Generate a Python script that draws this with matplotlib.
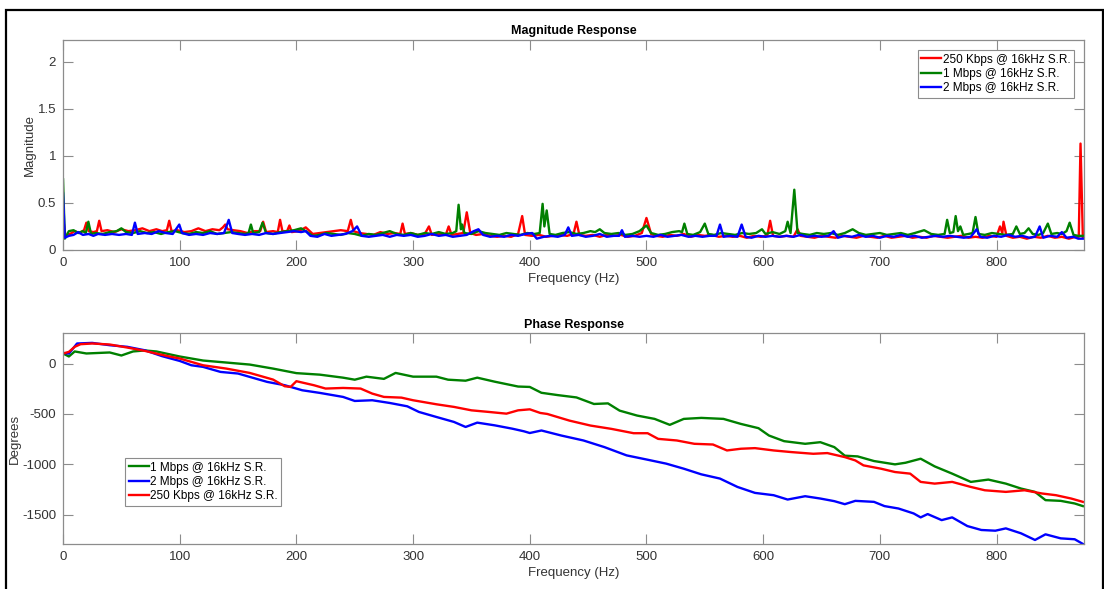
import numpy as np
import matplotlib.pyplot as plt
from matplotlib.patches import Rectangle

plt.rcParams['font.family'] = ['Liberation Sans', 'DejaVu Sans']
plt.rcParams['axes.unicode_minus'] = False

# ---- magnitude response (freq in Hz, magnitude) ----
red_mag_f = [0, 2, 6, 10, 14, 18, 20, 22, 26, 29, 31, 33, 38, 44, 50, 56, 62, 68, 74, 80, 85, 89, 91, 93,
             98, 104, 110, 116, 122, 128, 134, 137, 139, 141, 146, 152, 158, 164, 169, 171.5, 174, 180, 184,
             186, 188, 192, 194, 196, 202, 208, 214, 220, 226, 232, 238, 244, 246.6, 249, 254, 260, 266, 272,
             278, 284, 289, 291, 293, 298, 304, 310, 313.6, 316, 322, 328, 330.5, 333, 338, 343, 346, 349, 354,
             360, 366, 372, 378, 384, 390, 393.5, 396, 402, 408, 414, 420, 426, 432, 437.5, 440, 442.5, 448,
             454, 460, 466, 472, 478, 484, 490, 496, 500, 504, 508, 514, 520, 526, 532, 538, 544, 550, 556,
             562, 568, 574, 580, 586, 592, 598, 603.5, 606, 608.5, 614, 620, 626, 629.5, 632, 638, 644, 650,
             656, 662, 668, 674, 680, 686, 692, 698, 704, 710, 716, 722, 728, 734, 740, 746, 752, 758, 764,
             770, 776, 782, 788, 794, 800, 803, 805, 806, 808.5, 814, 820, 826, 832, 838, 844, 850, 856, 862,
             868, 870.5, 872, 874]
red_mag = [0.35, 0.15, 0.17, 0.2, 0.18, 0.21, 0.29, 0.2, 0.19, 0.2, 0.31, 0.2, 0.21, 0.19, 0.22, 0.2, 0.21,
           0.23, 0.2, 0.22, 0.2, 0.21, 0.31, 0.2, 0.21, 0.19, 0.2, 0.23, 0.2, 0.22, 0.21, 0.24, 0.27, 0.22,
           0.21, 0.2, 0.18, 0.2, 0.2, 0.3, 0.19, 0.2, 0.19, 0.32, 0.2, 0.2, 0.26, 0.19, 0.2, 0.24, 0.17, 0.18,
           0.19, 0.2, 0.21, 0.2, 0.32, 0.2, 0.18, 0.17, 0.16, 0.19, 0.17, 0.18, 0.17, 0.28, 0.17, 0.18, 0.16,
           0.17, 0.25, 0.16, 0.17, 0.16, 0.25, 0.16, 0.17, 0.18, 0.4, 0.18, 0.16, 0.17, 0.15, 0.14, 0.15, 0.14,
           0.17, 0.36, 0.16, 0.15, 0.16, 0.14, 0.15, 0.16, 0.15, 0.17, 0.3, 0.16, 0.15, 0.16, 0.14, 0.16, 0.15,
           0.16, 0.14, 0.15, 0.18, 0.34, 0.17, 0.15, 0.14, 0.16, 0.15, 0.17, 0.14, 0.16, 0.15, 0.16, 0.14, 0.15,
           0.14, 0.15, 0.13, 0.15, 0.14, 0.15, 0.31, 0.15, 0.14, 0.15, 0.14, 0.22, 0.15, 0.14, 0.13, 0.15, 0.14,
           0.13, 0.15, 0.14, 0.13, 0.15, 0.14, 0.13, 0.15, 0.13, 0.14, 0.15, 0.13, 0.14, 0.13, 0.15, 0.14, 0.13,
           0.14, 0.15, 0.13, 0.14, 0.13, 0.15, 0.14, 0.25, 0.18, 0.3, 0.15, 0.13, 0.14, 0.12, 0.14, 0.13, 0.15,
           0.13, 0.14, 0.12, 0.14, 0.14, 1.13, 0.14]

green_mag_f = [0, 1.5, 5, 9, 13, 17, 19.5, 21.7, 24, 28, 34, 40, 46, 50, 54, 60, 66, 72, 78, 84, 90, 96, 102,
               108, 114, 120, 126, 132, 138, 144, 150, 156, 159, 161, 163, 168, 171, 174, 180, 186, 192, 198,
               204, 208, 214, 220, 226, 232, 238, 244, 250, 256, 262, 268, 274, 280, 286, 292, 298, 304, 310,
               316, 322, 328, 334, 337, 339, 341, 342, 344, 350, 356, 362, 368, 374, 380, 386, 392, 398, 404,
               408.5, 411, 412.5, 414.5, 417, 422, 428, 434, 440, 446, 452, 456, 460, 464, 470, 476, 482, 488,
               494, 500, 504, 510, 516, 522, 528, 530.5, 532.5, 535, 540, 546, 550, 553, 558, 564, 570, 576,
               582, 588, 594, 599, 602, 608, 614, 619, 621, 623.5, 626.7, 629.5, 634, 640, 646, 652, 658, 664,
               670, 676.7, 682, 688, 694, 700, 706, 712, 718, 724, 730, 738, 744, 750, 755.5, 757.7, 760, 763,
               765, 767, 769, 771.5, 776, 779.5, 782, 784.5, 790, 796, 802, 808, 814, 817, 820, 824, 827.5, 831,
               836, 840, 844, 847, 852, 856, 860, 862.7, 866, 870, 874]
green_mag = [0.75, 0.12, 0.2, 0.21, 0.18, 0.2, 0.18, 0.3, 0.17, 0.18, 0.17, 0.19, 0.2, 0.23, 0.19, 0.18, 0.2,
             0.18, 0.19, 0.17, 0.19, 0.2, 0.18, 0.17, 0.19, 0.18, 0.2, 0.17, 0.18, 0.19, 0.18, 0.17, 0.18, 0.27,
             0.18, 0.19, 0.29, 0.18, 0.17, 0.19, 0.2, 0.21, 0.23, 0.2, 0.15, 0.16, 0.18, 0.17, 0.16, 0.18, 0.17,
             0.15, 0.17, 0.16, 0.18, 0.2, 0.17, 0.16, 0.18, 0.16, 0.18, 0.17, 0.19, 0.17, 0.18, 0.2, 0.48, 0.22,
             0.27, 0.18, 0.17, 0.2, 0.18, 0.17, 0.16, 0.18, 0.17, 0.16, 0.18, 0.17, 0.18, 0.49, 0.25, 0.42, 0.17,
             0.16, 0.18, 0.19, 0.17, 0.18, 0.2, 0.19, 0.22, 0.18, 0.17, 0.18, 0.16, 0.17, 0.2, 0.26, 0.18, 0.16,
             0.17, 0.19, 0.2, 0.19, 0.28, 0.17, 0.16, 0.19, 0.28, 0.17, 0.16, 0.18, 0.17, 0.16, 0.18, 0.17, 0.18,
             0.22, 0.17, 0.19, 0.17, 0.2, 0.3, 0.18, 0.64, 0.18, 0.17, 0.16, 0.18, 0.17, 0.18, 0.16, 0.18, 0.22,
             0.18, 0.16, 0.17, 0.18, 0.16, 0.17, 0.18, 0.16, 0.18, 0.21, 0.17, 0.16, 0.17, 0.32, 0.18, 0.19, 0.36,
             0.2, 0.25, 0.16, 0.17, 0.18, 0.35, 0.17, 0.16, 0.18, 0.17, 0.16, 0.17, 0.25, 0.17, 0.18, 0.23, 0.17,
             0.16, 0.18, 0.28, 0.17, 0.18, 0.17, 0.2, 0.29, 0.16, 0.15, 0.15]

blue_mag_f = [0, 1.5, 5, 9, 13, 17, 22, 26, 30, 36, 42, 48, 54, 59, 61.6, 64, 70, 76, 82, 88, 94, 99.6, 102,
              108, 114, 120, 126, 132, 138, 142, 145, 150, 156, 162, 168, 174, 180, 186, 192, 198, 204, 208,
              212, 218, 224, 230, 236, 242, 248, 252, 256, 262, 268, 274, 280, 286, 292, 298, 304, 310, 316,
              322, 328, 334, 340, 346, 352, 356, 360, 366, 372, 378, 384, 390, 396, 402, 406, 412, 418, 424,
              430, 433, 436, 442, 448, 454, 460, 466, 472, 476.5, 479, 481.5, 488, 494, 500, 506, 512, 518, 524,
              530, 536, 542, 548, 554, 560, 563, 566, 572, 578, 581.6, 585, 590, 596, 602, 608, 614, 620, 626,
              632, 638, 644, 650, 656, 660.4, 664, 670, 676, 682, 688, 694, 700, 706, 712, 718, 724, 730, 736,
              742, 748, 754, 760, 766, 772, 778, 783, 786, 792, 798, 804, 810, 816, 822, 828, 833, 837, 840,
              846, 852, 856, 860, 866, 870, 874]
blue_mag = [0.6, 0.13, 0.15, 0.16, 0.19, 0.16, 0.17, 0.15, 0.17, 0.16, 0.17, 0.16, 0.17, 0.16, 0.29, 0.17,
            0.18, 0.17, 0.2, 0.18, 0.17, 0.27, 0.18, 0.16, 0.17, 0.16, 0.18, 0.17, 0.18, 0.32, 0.18, 0.17, 0.16,
            0.17, 0.16, 0.18, 0.17, 0.18, 0.19, 0.2, 0.19, 0.2, 0.15, 0.14, 0.17, 0.15, 0.16, 0.17, 0.2, 0.25,
            0.15, 0.14, 0.15, 0.16, 0.14, 0.16, 0.15, 0.16, 0.14, 0.15, 0.17, 0.15, 0.16, 0.14, 0.15, 0.16, 0.2,
            0.22, 0.16, 0.14, 0.15, 0.14, 0.16, 0.15, 0.17, 0.18, 0.12, 0.14, 0.15, 0.14, 0.16, 0.24, 0.15, 0.16,
            0.14, 0.15, 0.17, 0.14, 0.15, 0.15, 0.21, 0.14, 0.15, 0.14, 0.15, 0.14, 0.16, 0.14, 0.15, 0.16, 0.14,
            0.15, 0.14, 0.15, 0.15, 0.27, 0.14, 0.15, 0.14, 0.27, 0.14, 0.13, 0.15, 0.14, 0.15, 0.14, 0.15, 0.14,
            0.16, 0.14, 0.15, 0.14, 0.15, 0.2, 0.13, 0.15, 0.14, 0.16, 0.14, 0.15, 0.13, 0.15, 0.14, 0.16, 0.14,
            0.15, 0.13, 0.14, 0.15, 0.14, 0.15, 0.14, 0.13, 0.14, 0.22, 0.14, 0.13, 0.15, 0.14, 0.16, 0.14, 0.15,
            0.13, 0.14, 0.25, 0.13, 0.15, 0.14, 0.19, 0.13, 0.14, 0.12, 0.12]

# ---- phase response (freq in Hz, degrees) ----
green_ph_f = [0, 5, 10, 20, 40, 50, 60, 70, 80, 100, 120, 140, 160, 180, 200, 220, 240, 250, 260, 275, 285,
              300, 320, 330, 345, 355, 370, 390, 400, 410, 424, 440, 455, 467, 477, 492, 507, 520, 532, 547,
              566, 581, 596, 605, 618, 636, 649, 661, 670, 681, 695, 713, 722, 735, 747, 762, 778, 793, 808,
              821, 833, 842, 855, 867, 874]
green_ph = [100, 70, 120, 100, 110, 80, 120, 130, 120, 70, 30, 10, -10, -50, -95, -110, -140, -160, -130, -152,
            -93, -130, -130, -160, -170, -140, -180, -228, -232, -290, -313, -336, -401, -395, -467, -516, -549,
            -608, -549, -539, -549, -599, -641, -714, -770, -796, -780, -829, -914, -921, -967, -1000, -984,
            -944, -1020, -1092, -1174, -1151, -1191, -1240, -1273, -1355, -1362, -1388, -1414]

blue_ph_f = [0, 5, 12, 25, 40, 55, 70, 85, 100, 110, 120, 135, 150, 165, 175, 190, 205, 220, 240, 250, 265,
             280, 295, 305, 320, 335, 345, 355, 370, 385, 395, 400, 410, 427, 446, 464, 483, 501, 517, 532,
             547, 563, 578, 593, 609, 621, 636, 649, 661, 670, 679, 695, 704, 716, 729, 735, 741, 753, 762,
             775, 787, 799, 808, 821, 833, 842, 855, 867, 874]
blue_ph = [106, 99, 199, 205, 182, 166, 132, 73, 26, -17, -33, -83, -99, -149, -182, -215, -265, -291, -331,
           -371, -364, -391, -424, -480, -530, -579, -629, -586, -613, -646, -672, -689, -664, -714, -763, -829,
           -911, -954, -993, -1043, -1099, -1141, -1224, -1283, -1306, -1349, -1316, -1339, -1365, -1395, -1362,
           -1372, -1414, -1438, -1487, -1526, -1493, -1553, -1526, -1612, -1651, -1658, -1635, -1684, -1750,
           -1694, -1734, -1743, -1789]

red_ph_f = [0, 5, 10, 15, 25, 40, 55, 70, 80, 90, 100, 120, 140, 160, 180, 190, 195, 200, 215, 225, 240, 255,
            265, 275, 290, 300, 320, 335, 350, 365, 380, 390, 400, 409, 415, 434, 452, 470, 489, 501, 510, 526,
            541, 557, 569, 581, 593, 609, 624, 643, 655, 670, 679, 686, 701, 713, 726, 735, 747, 762, 778, 790,
            808, 824, 839, 851, 864, 874]
red_ph = [99, 116, 166, 192, 199, 189, 159, 126, 99, 73, 50, -17, -50, -93, -159, -225, -232, -175, -215, -248,
          -242, -248, -298, -331, -338, -364, -404, -430, -464, -480, -497, -464, -454, -490, -500, -566, -615,
          -648, -691, -691, -747, -763, -796, -803, -862, -845, -839, -862, -878, -895, -888, -928, -961, -1010,
          -1043, -1076, -1092, -1174, -1191, -1174, -1224, -1257, -1273, -1257, -1289, -1306, -1339, -1372]

lbl_red = '250 Kbps @ 16kHz S.R.'
lbl_green = '1 Mbps @ 16kHz S.R.'
lbl_blue = '2 Mbps @ 16kHz S.R.'

RED = '#ff0000'
GREEN = '#008000'
BLUE = '#0000ff'
AX_COL = '#8c8c8c'
TXT_COL = '#333333'


def style_axes(ax):
    for s in ax.spines.values():
        s.set_color(AX_COL)
        s.set_linewidth(0.9)
    ax.tick_params(direction='in', length=7, width=0.8, color=AX_COL, labelcolor=TXT_COL,
                   labelsize=9.5, top=True, right=True, pad=5)


fig = plt.figure(figsize=(11.04, 5.89), dpi=100)
ax1 = fig.add_axes([0.0571, 0.5756, 0.9248, 0.3565])
ax2 = fig.add_axes([0.0571, 0.0764, 0.9248, 0.3577])

ax1.plot(red_mag_f, red_mag, color=RED, lw=1.7, label=lbl_red)
ax1.plot(green_mag_f, green_mag, color=GREEN, lw=1.7, label=lbl_green)
ax1.plot(blue_mag_f, blue_mag, color=BLUE, lw=1.7, label=lbl_blue)
ax1.set_xlim(0, 875)
ax1.set_ylim(0, 2.23)
ax1.set_yticks([0, 0.5, 1, 1.5, 2])
ax1.set_yticklabels(['0', '0.5', '1', '1.5', '2'])
ax1.set_xticks(range(0, 900, 100))
ax1.set_title('Magnitude Response', fontsize=9, fontweight='bold', pad=4)
ax1.set_xlabel('Frequency (Hz)', fontsize=9.5, color=TXT_COL, labelpad=3)
ax1.set_ylabel('Magnitude', fontsize=9.5, color=TXT_COL, labelpad=1)
style_axes(ax1)
leg1 = ax1.legend(loc='upper right', bbox_to_anchor=(0.990, 0.952), fontsize=8.5, fancybox=False,
                  framealpha=1, edgecolor=AX_COL, handlelength=1.7, handletextpad=0.1,
                  labelspacing=0.2, borderpad=0.3, borderaxespad=0)
leg1.get_frame().set_linewidth(0.8)

ax2.plot(green_ph_f, green_ph, color=GREEN, lw=1.7, label=lbl_green)
ax2.plot(blue_ph_f, blue_ph, color=BLUE, lw=1.7, label=lbl_blue)
ax2.plot(red_ph_f, red_ph, color=RED, lw=1.7, label=lbl_red)
ax2.set_xlim(0, 875)
ax2.set_ylim(-1790, 300)
ax2.set_yticks([-1500, -1000, -500, 0])
ax2.set_xticks(range(0, 900, 100))
ax2.set_title('Phase Response', fontsize=9, fontweight='bold', pad=4)
ax2.set_xlabel('Frequency (Hz)', fontsize=9.5, color=TXT_COL, labelpad=3)
ax2.set_ylabel('Degrees', fontsize=9.5, color=TXT_COL, labelpad=1)
style_axes(ax2)
leg2 = ax2.legend(loc='upper left', bbox_to_anchor=(0.061, 0.408), fontsize=8.5, fancybox=False,
                  framealpha=1, edgecolor=AX_COL, handlelength=1.7, handletextpad=0.1,
                  labelspacing=0.2, borderpad=0.3, borderaxespad=0)
leg2.get_frame().set_linewidth(0.8)

# black frame around the figure
fig.patches.append(Rectangle((0.0054, -0.05), 0.9937, 0.0333 + 1.0, transform=fig.transFigure,
                             fill=False, edgecolor='black', lw=1.6, clip_on=False))

fig.savefig('out.png', dpi=100)
